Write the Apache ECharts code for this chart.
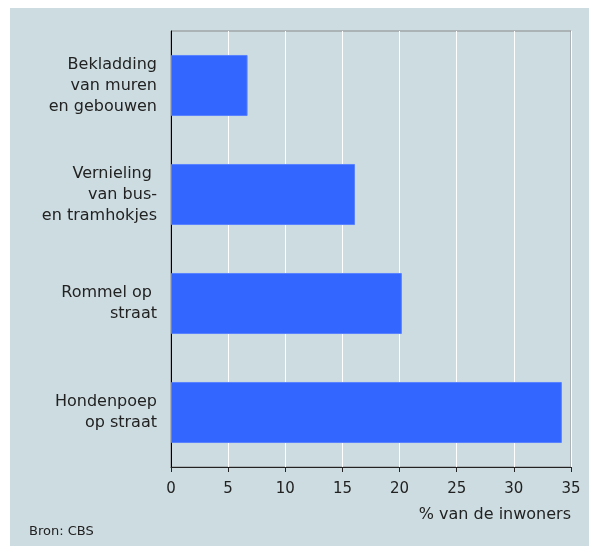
<!DOCTYPE html>
<html><head><meta charset="utf-8">
<script src="https://cdn.jsdelivr.net/npm/echarts@6/dist/echarts.min.js"></script>
<style>html,body{margin:0;padding:0;background:#fff}#c{width:589px;height:546px}</style>
</head><body><div id="c"></div>
<script>
const categories = ["Bekladding\nvan muren\nen gebouwen", "Vernieling \nvan bus-\nen tramhokjes", "Rommel op \nstraat", "Hondenpoep\nop straat"];
const values = [6.7, 16.1, 20.2, 34.2];
const xTicks = [0, 5, 10, 15, 20, 25, 30, 35];
const axisTitle = "% van de inwoners";
const source = "Bron: CBS";

const font = "DejaVu Sans";
const chart = echarts.init(document.getElementById('c'), null, {renderer: 'canvas'});
chart.setOption({
  animation: false,
  backgroundColor: '#ffffff',
  graphic: [
    {type: 'rect', left: 10, top: 8, shape: {width: 579, height: 538}, style: {fill: '#cddce1'}, z: -10},
    {type: 'text', right: 18, top: 507, style: {text: axisTitle, font: '16px "DejaVu Sans"', fill: '#222', textAlign: 'right'}},
    {type: 'text', left: 29, top: 525, style: {text: source, font: '13px "DejaVu Sans"', fill: '#222'}}
  ],
  grid: {left: 171, right: 18, top: 31, bottom: 79, show: true, borderColor: '#8a8a8a', borderWidth: 1, backgroundColor: 'transparent'},
  xAxis: {
    type: 'value', min: 0, max: 35, interval: 5,
    axisLine: {show: true, lineStyle: {color: '#222', width: 1}},
    axisTick: {show: true, length: 5, lineStyle: {color: '#222'}},
    axisLabel: {color: '#222', fontFamily: font, fontSize: 15, margin: 15,
      formatter: v => xTicks.includes(v) ? String(v) : ''},
    splitLine: {show: true, lineStyle: {color: '#ffffff', width: 1}}
  },
  yAxis: {
    type: 'category', data: categories, inverse: true,
    axisLine: {show: true, lineStyle: {color: '#000', width: 1}},
    axisTick: {show: false},
    axisLabel: {color: '#222', fontFamily: font, fontSize: 16, lineHeight: 21, margin: 14, align: 'right'}
  },
  series: [{
    type: 'bar', data: values, barWidth: '56%',
    itemStyle: {color: '#3366ff', borderColor: '#5a82ff', borderWidth: 1}
  }]
});
</script></body></html>
